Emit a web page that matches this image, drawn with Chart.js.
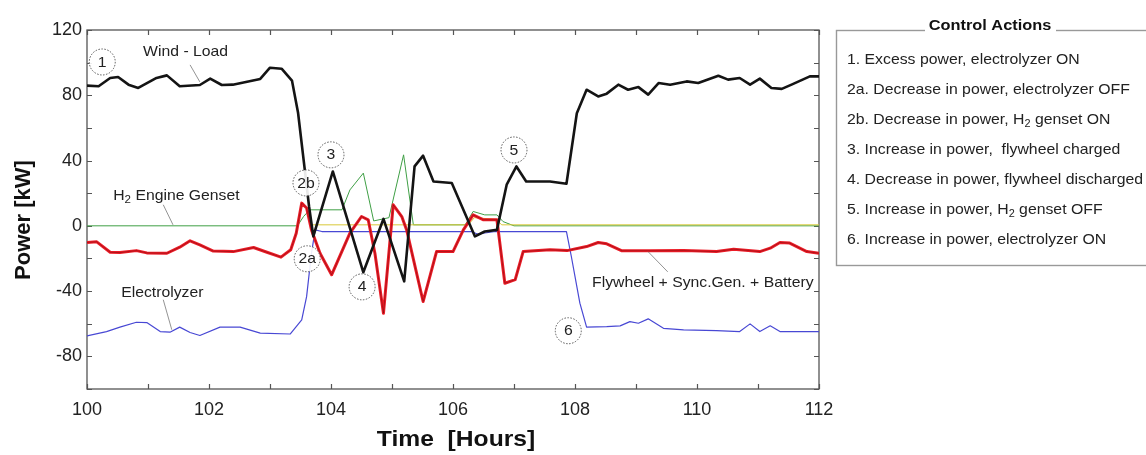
<!DOCTYPE html>
<html><head><meta charset="utf-8">
<script src="https://cdn.jsdelivr.net/npm/chart.js@4.4.1/dist/chart.umd.min.js"></script>
<style>html,body{margin:0;padding:0;background:#fff;}#wrap{width:1146px;height:455px;position:relative;overflow:hidden}</style>
</head><body><div id="wrap"><canvas id="c" width="1146" height="455"></canvas></div>
<script>
// ---- Data (time in hours, power in kW) ----
const windLoadTime = [100,100.19,100.38,100.51,100.68,100.84,101.14,101.31,101.52,101.85,102.02,102.21,102.39,102.84,103.0,103.19,103.36,103.46,103.57,103.64,103.71,104.03,104.53,104.86,105.2,105.37,105.51,105.68,105.98,106.36,106.52,106.72,106.88,107.04,107.2,107.59,107.86,108.03,108.19,108.38,108.52,108.71,108.87,109.04,109.2,109.37,109.56,109.83,110.02,110.35,110.51,110.7,110.87,111.03,111.22,111.39,111.55,111.85,112];
const windLoadPower = [85.9,85.5,90.6,91.2,86.5,84.5,90.6,92.2,85.5,86.3,90.2,86.3,86.5,90,96.9,96.3,89,69.3,34.4,12,-6.5,33.3,-28.5,4.2,-34,36.4,43,27.2,26.2,-6.5,-3.5,-2.5,25.2,36.4,27.2,27.2,25.8,69,83.4,79.3,81,86.5,83.4,85,80.4,87.5,86.5,88.5,87.5,92,89.6,90.6,86.5,90.2,84.5,83.9,86.5,91.6,91.6];

const flywheelTime = [100,100.16,100.38,100.54,100.81,100.98,101.31,101.52,101.69,101.85,102.07,102.4,102.73,102.95,103.18,103.34,103.43,103.52,103.6,103.68,103.82,104.01,104.31,104.5,104.61,104.72,104.86,105.02,105.16,105.24,105.51,105.73,106.0,106.17,106.33,106.5,106.72,106.85,107.02,107.15,107.59,107.87,108.19,108.38,108.52,108.77,109.23,109.78,110.32,110.6,111.03,111.2,111.36,111.52,111.8,112];
const flywheelPower = [-10.2,-9.8,-16.2,-16.4,-15.2,-16.6,-16.8,-13.1,-9.2,-11.7,-15.5,-15.8,-13.3,-16.2,-19.2,-14.7,-4.5,13.9,10.9,-2.5,-16.8,-30,-4.5,5.7,3.7,-16.8,-53.6,12.9,5.7,-2.5,-46.4,-15.8,-15.8,-2.5,6.7,3.7,3.7,-35.2,-33,-15.8,-14.7,-15.2,-12.7,-10.2,-11,-15.3,-15.3,-15.2,-15.8,-14.3,-15.8,-13.7,-10.2,-10.6,-15.8,-16.8];

const electrolyzerTime = [100,100.32,100.54,100.81,100.98,101.2,101.36,101.52,101.69,101.85,102.18,102.51,102.84,103.33,103.52,103.6,103.68,103.74,103.85,106.3,106.4,106.7,107.86,107.94,108.08,108.19,108.52,108.74,108.9,109.04,109.2,109.45,109.78,110.32,110.7,110.87,111.03,111.2,111.36,112];
const electrolyzerPower = [-67.5,-64.8,-62.1,-59.1,-59.3,-64.8,-65.2,-62.1,-65.4,-67.2,-62.1,-62.1,-65.8,-66.3,-57.7,-43.4,-16.8,-2.5,-3.5,-3.5,-5,-3.5,-3.5,-18.8,-47.4,-62.1,-61.8,-61.3,-58.7,-59.7,-57,-62.8,-63.8,-64.2,-64.8,-60.1,-64.8,-61.3,-64.8,-64.8];

const gensetTime = [100,103.45,103.55,103.65,104.18,104.31,104.53,104.7,104.95,105.19,105.35,106.2,106.33,106.52,106.72,106.82,107.0,112];
const gensetPower = [0,0,5.7,9.8,9.8,22,32.3,3,5,43.5,0.6,0.6,8.8,6.7,6.7,2.6,0,0];

const auxTime = [103.7,106.25,106.35,106.7,106.8,112];
const auxPower = [0.6,0.6,5,4,0.6,0.6];

const xTickLabels = [100,102,104,106,108,110,112];
const yTickLabels = [-80,-40,0,40,80,120];

const legendTitle = "Control Actions";
const legendItems = [
  "1. Excess power, electrolyzer ON",
  "2a. Decrease in power, electrolyzer OFF",
  "2b. Decrease in power, H_2 genset ON",
  "3. Increase in power,  flywheel charged",
  "4. Decrease in power, flywheel discharged",
  "5. Increase in power, H_2 genset OFF",
  "6. Increase in power, electrolyzer ON"
];

// circled markers: [label, time, power]
const markers = [["1",100.25,100.4],["2b",103.59,26.3],["3",104.0,43.5],["2a",103.61,-20.2],["4",104.51,-37.4],["5",107.0,46.5],["6",107.89,-64.3]];
// series labels: [text, time, power, leaderFrom(t,p), leaderTo(t,p)]
const seriesLabels = [
  ["Wind - Load",100.92,106.5,[101.69,98.6],[101.85,88.2]],
  ["H_2 Engine Genset",100.43,18.4,[101.25,12.9],[101.41,0.6]],
  ["Electrolyzer",100.56,-41,[101.25,-45.3],[101.39,-63.7]],
  ["Flywheel + Sync.Gen. + Battery",108.28,-34.9,[109.2,-15.9],[109.52,-28.2]]
];

const FONT = "'Liberation Sans', Arial, Helvetica, sans-serif";
const toXY = (ts, vs) => ts.map((t, i) => ({x: t, y: vs[i]}));

// text helper with horizontal scaling and "_2" subscripts
function drawText(ctx, text, x, y, size, bold, sx, align) {
  const parts = text.split(/(_2)/);
  const fMain = (bold ? "bold " : "") + size + "px " + FONT;
  const fSub = (bold ? "bold " : "") + Math.round(size * 0.7) + "px " + FONT;
  let w = 0;
  parts.forEach(p => { ctx.font = p === "_2" ? fSub : fMain; w += ctx.measureText(p === "_2" ? "2" : p).width; });
  ctx.save();
  ctx.translate(x, y);
  ctx.scale(sx, 1);
  let cx = align === "center" ? -w / 2 : 0;
  ctx.textBaseline = "middle";
  ctx.textAlign = "left";
  parts.forEach(p => {
    if (p === "_2") { ctx.font = fSub; ctx.fillText("2", cx, size * 0.3); cx += ctx.measureText("2").width; }
    else { ctx.font = fMain; ctx.fillText(p, cx, 0); cx += ctx.measureText(p).width; }
  });
  ctx.restore();
  return w * sx;
}

const framePlugin = {
  id: "frame",
  beforeDatasetsDraw(chart) {
    const {ctx, chartArea: a, scales: {x, y}} = chart;
    ctx.save();
    ctx.strokeStyle = "#555";
    ctx.lineWidth = 1.3;
    ctx.strokeRect(a.left, a.top, a.right - a.left, a.bottom - a.top);
    ctx.lineWidth = 1.2;
    ctx.beginPath();
    x.ticks.forEach(t => {
      const px = Math.round(x.getPixelForValue(t.value)) + 0.5;
      ctx.moveTo(px, a.bottom); ctx.lineTo(px, a.bottom - 5);
      ctx.moveTo(px, a.top); ctx.lineTo(px, a.top + 5);
    });
    y.ticks.forEach(t => {
      const py = Math.round(y.getPixelForValue(t.value)) + 0.5;
      ctx.moveTo(a.left, py); ctx.lineTo(a.left + 5, py);
      ctx.moveTo(a.right, py); ctx.lineTo(a.right - 5, py);
    });
    ctx.stroke();
    ctx.restore();
  },
  afterDatasetsDraw(chart) {
    const {ctx, scales: {x, y}} = chart;
    ctx.save();
    ctx.strokeStyle = "#777";
    ctx.lineWidth = 0.8;
    seriesLabels.forEach(([txt, t, p, f, to]) => {
      ctx.beginPath();
      ctx.moveTo(x.getPixelForValue(f[0]), y.getPixelForValue(f[1]));
      ctx.lineTo(x.getPixelForValue(to[0]), y.getPixelForValue(to[1]));
      ctx.stroke();
      ctx.fillStyle = "#222";
      drawText(ctx, txt, x.getPixelForValue(t), y.getPixelForValue(p), 15, false, 1.05, "left");
    });
    markers.forEach(([lab, t, p]) => {
      const cx = x.getPixelForValue(t), cy = y.getPixelForValue(p);
      ctx.beginPath();
      ctx.arc(cx, cy, 13, 0, Math.PI * 2);
      ctx.fillStyle = "rgba(255,255,255,0.9)";
      ctx.fill();
      ctx.setLineDash([1.5, 1.5]);
      ctx.strokeStyle = "#555";
      ctx.lineWidth = 1;
      ctx.stroke();
      ctx.setLineDash([]);
      ctx.fillStyle = "#222";
      drawText(ctx, lab, cx, cy + 0.5, 15, false, 1.05, "center");
    });
    ctx.restore();
  },
  afterDraw(chart) {
    const {ctx, chartArea: a} = chart;
    ctx.save();
    ctx.fillStyle = "#111";
    drawText(ctx, "Time  [Hours]", (a.left + a.right) / 2 + 3, 440, 22, true, 1.12, "center");
    ctx.save();
    ctx.translate(24, 220);
    ctx.rotate(-Math.PI / 2);
    drawText(ctx, "Power [kW]", 0, 0, 22, true, 1.0, "center");
    ctx.restore();
    ctx.strokeStyle = "#999";
    ctx.lineWidth = 1.4;
    ctx.strokeRect(836.5, 30.5, 330, 235);
    ctx.fillStyle = "#fff";
    ctx.fillRect(925, 20, 131, 14);
    ctx.fillStyle = "#111";
    drawText(ctx, legendTitle, 990, 26, 15, true, 1.09, "center");
    ctx.fillStyle = "#222";
    legendItems.forEach((s, i) => drawText(ctx, s, 847, 60 + i * 30, 14.5, false, 1.09, "left"));
    ctx.restore();
  }
};

new Chart(document.getElementById("c"), {
  type: "line",
  data: {
    datasets: [
      {label: "Wind - Load", data: toXY(windLoadTime, windLoadPower), borderColor: "#141414", borderWidth: 2.6},
      {label: "Flywheel core", data: toXY(flywheelTime, flywheelPower), borderColor: "rgba(70,0,0,0.45)", borderWidth: 0.8},
      {label: "Flywheel + Sync.Gen. + Battery", data: toXY(flywheelTime, flywheelPower), borderColor: "#ec1c27", borderWidth: 3},
      {label: "Electrolyzer", data: toXY(electrolyzerTime, electrolyzerPower), borderColor: "#4848d4", borderWidth: 1.2},
      {label: "aux", data: toXY(auxTime, auxPower), borderColor: "#d8c838", borderWidth: 1},
      {label: "H2 Engine Genset", data: toXY(gensetTime, gensetPower), borderColor: "#3f9f45", borderWidth: 1}
    ]
  },
  options: {
    responsive: false,
    animation: false,
    devicePixelRatio: 1,
    layout: {padding: {left: 0, top: 30, right: 327, bottom: 0}},
    elements: {point: {radius: 0}, line: {tension: 0, borderJoinStyle: "round", fill: false}},
    plugins: {legend: {display: false}, tooltip: {enabled: false}},
    scales: {
      x: {
        type: "linear", min: 100, max: 112,
        grid: {display: false, drawTicks: false}, border: {display: false},
        ticks: {stepSize: 1, autoSkip: false, maxRotation: 0, padding: 10, color: "#222",
          font: {family: FONT, size: 18},
          callback: v => xTickLabels.includes(v) ? String(v) : ""},
        afterFit: s => { s.height = 66; }
      },
      y: {
        type: "linear", min: -100, max: 120,
        grid: {display: false, drawTicks: false}, border: {display: false},
        ticks: {stepSize: 20, autoSkip: false, padding: 5, color: "#222",
          font: {family: FONT, size: 18},
          callback: v => yTickLabels.includes(v) ? String(v) : ""},
        afterFit: s => { s.width = 87; }
      }
    }
  },
  plugins: [framePlugin]
});
</script></body></html>
